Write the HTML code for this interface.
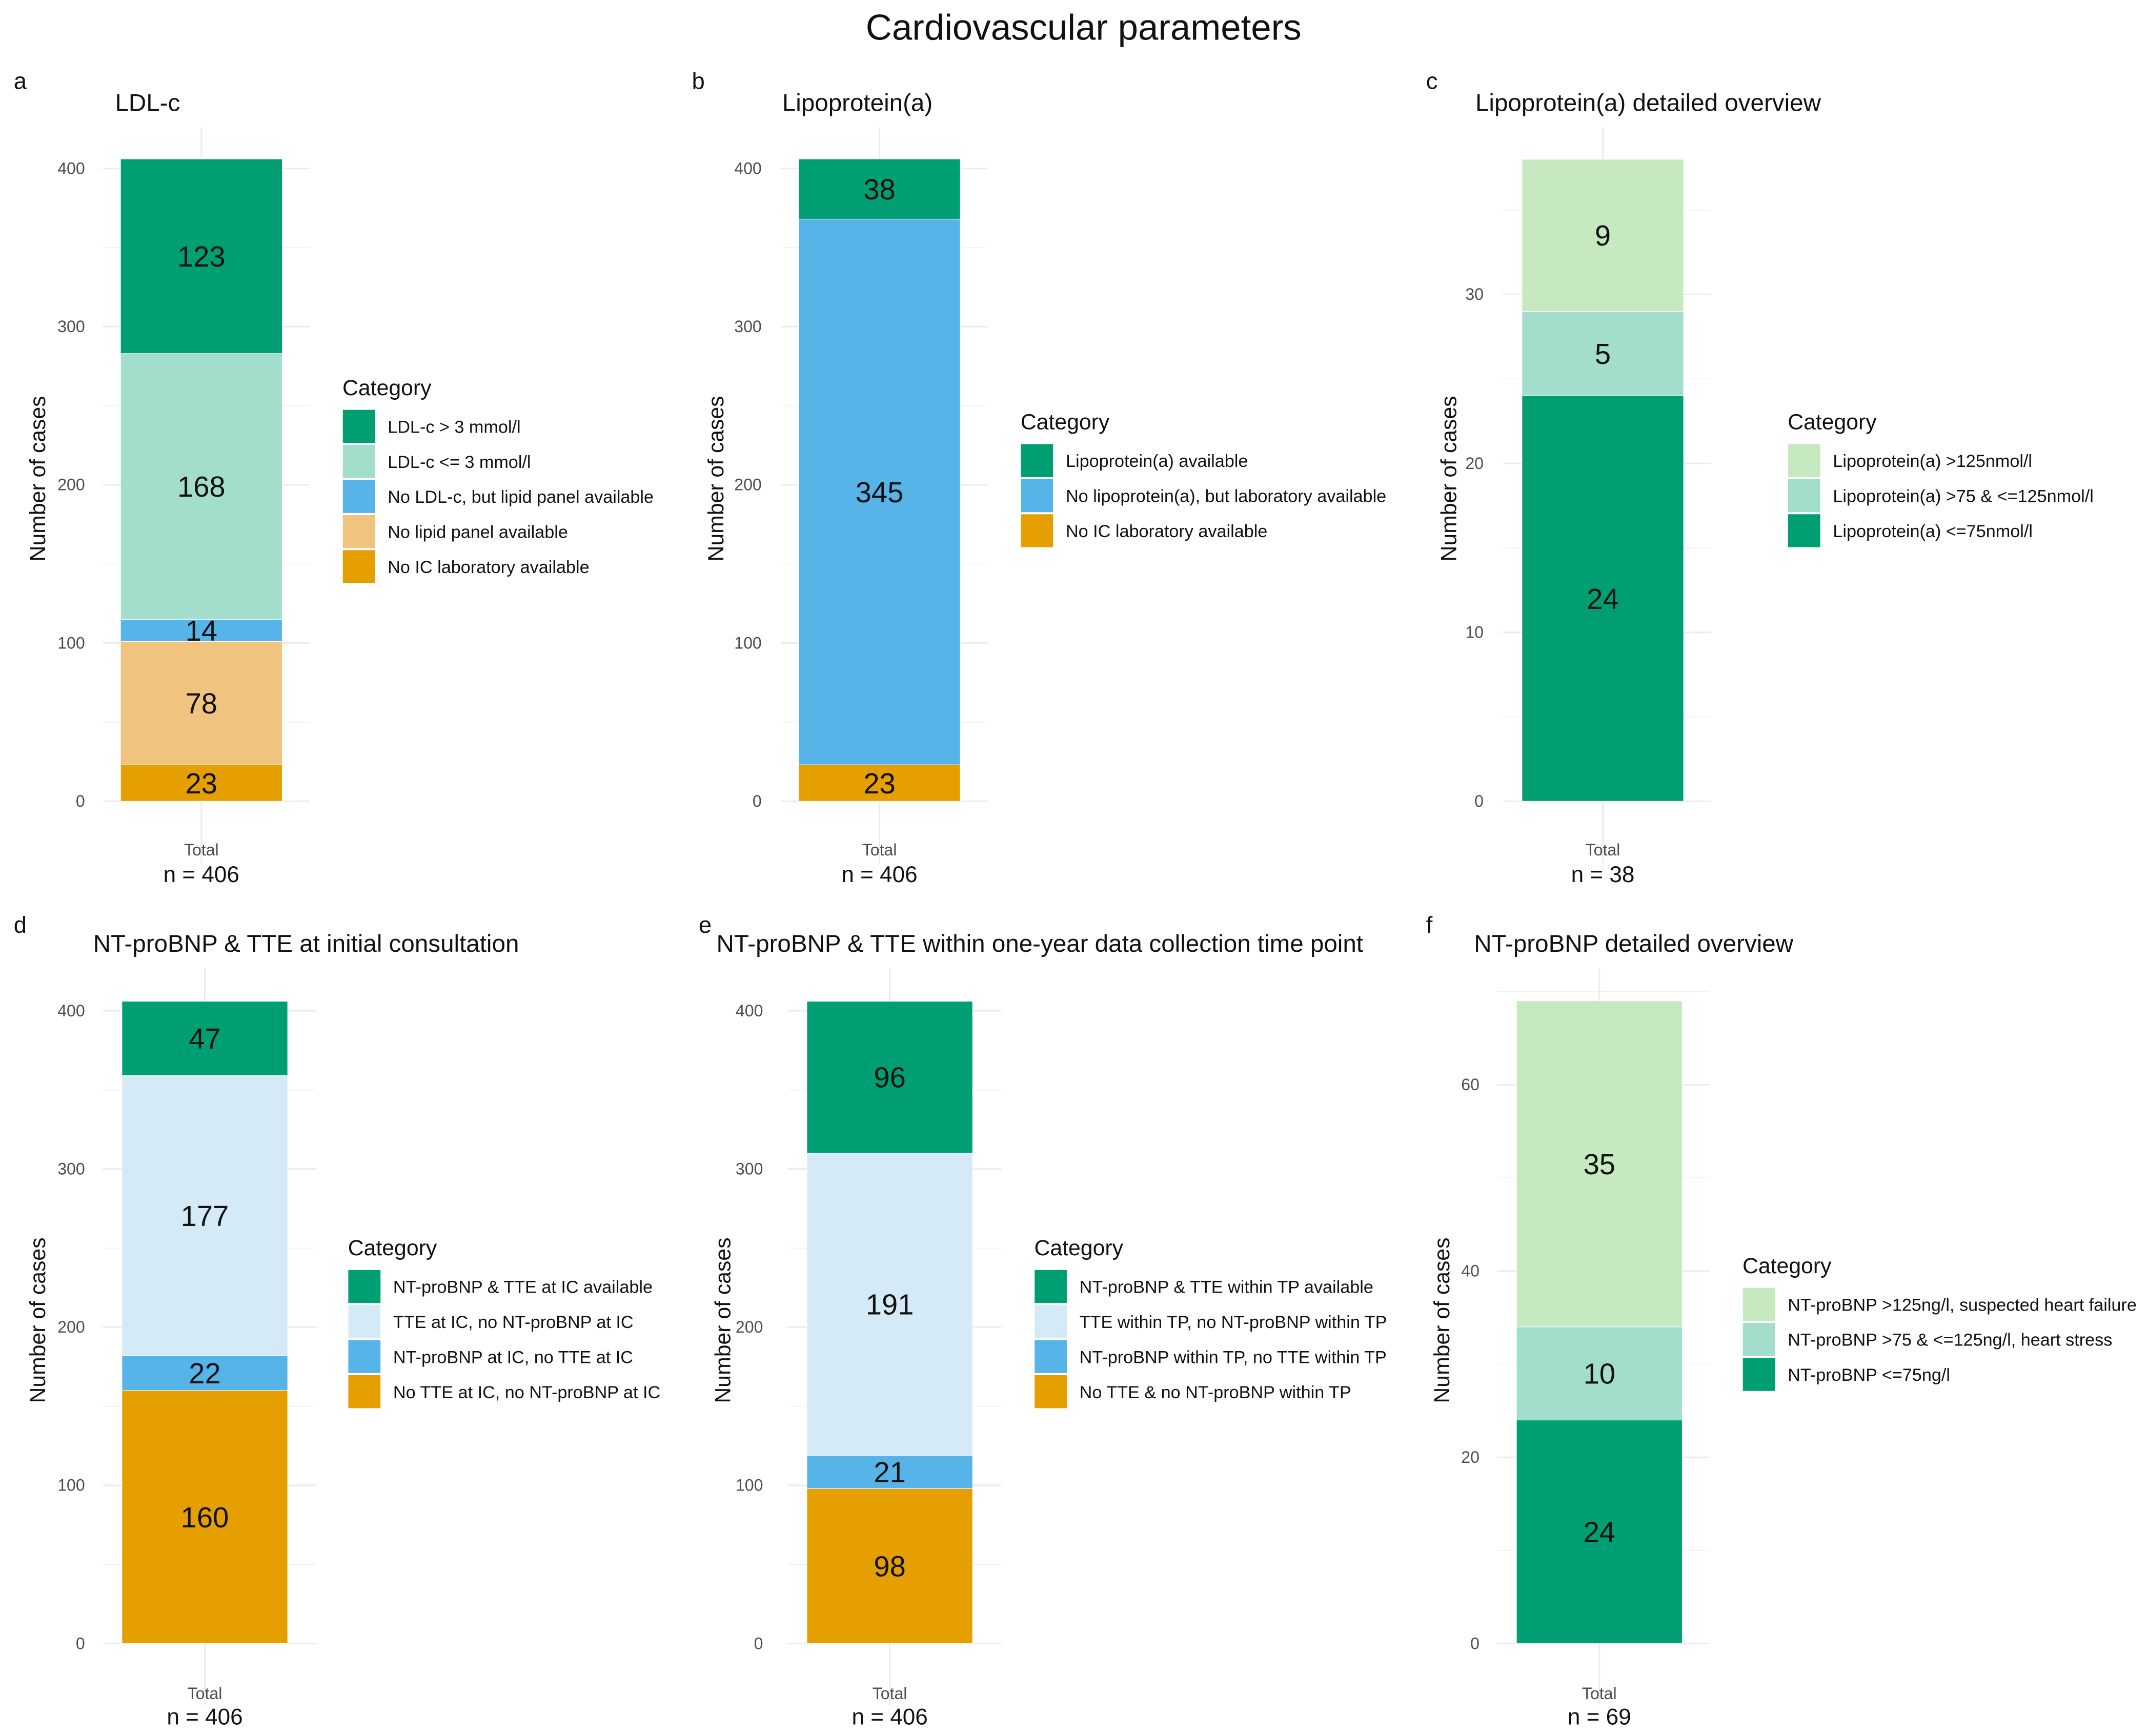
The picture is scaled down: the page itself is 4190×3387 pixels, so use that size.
<!DOCTYPE html>
<html><head><meta charset="utf-8">
<style>
html,body{margin:0;padding:0;background:#fff;}
svg{display:block;font-family:"Liberation Sans",Arial,sans-serif;}
</style></head>
<body>
<svg id="fig" width="4190" height="3387" viewBox="0 0 1568 1267.5" xmlns="http://www.w3.org/2000/svg">
<text x="791" y="29" font-size="26.5" text-anchor="middle" fill="#111">Cardiovascular parameters</text>
</svg>
<script>
// Panel data (values bottom -> top)
const aValues = [23, 78, 14, 168, 123];
const aLegend = ["LDL-c > 3 mmol/l","LDL-c <= 3 mmol/l","No LDL-c, but lipid panel available","No lipid panel available","No IC laboratory available"];
const bValues = [23, 345, 38];
const bLegend = ["Lipoprotein(a) available","No lipoprotein(a), but laboratory available","No IC laboratory available"];
const cValues = [24, 5, 9];
const cLegend = ["Lipoprotein(a) >125nmol/l","Lipoprotein(a) >75 & <=125nmol/l","Lipoprotein(a) <=75nmol/l"];
const dValues = [160, 22, 177, 47];
const dLegend = ["NT-proBNP & TTE at IC available","TTE at IC, no NT-proBNP at IC","NT-proBNP at IC, no TTE at IC","No TTE at IC, no NT-proBNP at IC"];
const eValues = [98, 21, 191, 96];
const eLegend = ["NT-proBNP & TTE within TP available","TTE within TP, no NT-proBNP within TP","NT-proBNP within TP, no TTE within TP","No TTE & no NT-proBNP within TP"];
const fValues = [24, 10, 35];
const fLegend = ["NT-proBNP >125ng/l, suspected heart failure","NT-proBNP >75 & <=125ng/l, heart stress","NT-proBNP <=75ng/l"];
const ticks406 = [0,100,200,300,400];
const ticks38 = [0,10,20,30];
const ticks69 = [0,20,40,60];

const G="#009E73",T="#A3DDCB",B="#56B4E9",O="#E69F00",LO="#F0C47E",LB="#D4EAF7",LG="#C7E9C0";
const NS="http://www.w3.org/2000/svg";
const svg=document.getElementById('fig');
function el(tag,attrs,parent){const e=document.createElementNS(NS,tag);for(const k in attrs)e.setAttribute(k,attrs[k]);(parent||svg).appendChild(e);return e;}

const panels=[
 {id:"a",title:"LDL-c",values:aValues,legend:aLegend,colors:[O,LO,B,T,G],legColors:[G,T,B,LO,O],ticks:ticks406,minor:50,max:400,
  lx:10,ly:60,tx:84,ty:75,bx0:88,bx1:206,y0:585,yTop:123,top:93,bottom:630,ytx:27,tickR:62,gx0:75,gx1:226,legX:250,catY:283,totY:620,nY:638},
 {id:"b",title:"Lipoprotein(a)",values:bValues,legend:bLegend,colors:[O,B,G],legColors:[G,B,O],ticks:ticks406,minor:50,max:400,
  lx:505,ly:60,tx:571,ty:75,bx0:583,bx1:701,y0:585,yTop:123,top:93,bottom:630,ytx:522,tickR:556,gx0:570,gx1:721,legX:745,catY:308,totY:620,nY:638},
 {id:"c",title:"Lipoprotein(a) detailed overview",values:cValues,legend:cLegend,colors:[G,T,LG],legColors:[LG,T,G],ticks:ticks38,minor:5,max:30,
  lx:1041,ly:60,tx:1077,ty:75,bx0:1111,bx1:1229,y0:585,yTop:215,top:93,bottom:630,ytx:1057,tickR:1083,gx0:1097,gx1:1249,legX:1305,catY:308,totY:620,nY:638},
 {id:"d",title:"NT-proBNP & TTE at initial consultation",values:dValues,legend:dLegend,colors:[O,B,LB,G],legColors:[G,LB,B,O],ticks:ticks406,minor:50,max:400,
  lx:10,ly:676,tx:68,ty:689,bx0:89,bx1:210,y0:1200,yTop:738,top:707,bottom:1245,ytx:27,tickR:62,gx0:75,gx1:231,legX:254,catY:911,totY:1236,nY:1253},
 {id:"e",title:"NT-proBNP & TTE within one-year data collection time point",values:eValues,legend:eLegend,colors:[O,B,LB,G],legColors:[G,LB,B,O],ticks:ticks406,minor:50,max:400,
  lx:510,ly:676,tx:523,ty:689,bx0:589,bx1:710,y0:1200,yTop:738,top:707,bottom:1245,ytx:527,tickR:557,gx0:575,gx1:731,legX:755,catY:911,totY:1236,nY:1253},
 {id:"f",title:"NT-proBNP detailed overview",values:fValues,legend:fLegend,colors:[G,T,LG],legColors:[LG,T,G],ticks:ticks69,minor:10,max:60,
  lx:1041,ly:676,tx:1076,ty:689,bx0:1107,bx1:1228,y0:1200,yTop:792,top:707,bottom:1245,ytx:1052,tickR:1080,gx0:1093,gx1:1248,legX:1272,catY:924,totY:1236,nY:1253}
];

panels.forEach(p=>{
  const g=el('g',{});
  
  
  const ys=v=>p.y0-(v/p.max)*(p.y0-p.yTop);
  const total=p.values.reduce((s,v)=>s+v,0);
  for(let v=p.minor; ys(v)>=p.top+5; v+=p.minor*2){
    const ln=el('line',{x1:p.gx0,x2:p.gx1,y1:ys(v),y2:ys(v),stroke:'#f0f0f0','stroke-width':0.6},g);
    
    
  }
  p.ticks.forEach(t=>{
    const ln=el('line',{x1:p.gx0,x2:p.gx1,y1:ys(t),y2:ys(t),stroke:'#ebebeb','stroke-width':1.1},g);
    
    
    const tx=el('text',{x:p.tickR,y:ys(t)+4,'font-size':12,'text-anchor':'end',fill:'#4d4d4d'},g);
    tx.textContent=t;
    
    
  });
  const cx=(p.bx0+p.bx1)/2;
  const vg=el('line',{x1:cx,x2:cx,y1:p.top,y2:p.bottom,stroke:'#ebebeb','stroke-width':1.1},g);
  
  
  let cum=0;
  p.values.forEach((v,i)=>{
    const y1=ys(cum+v),y2=ys(cum);
    const r=el('rect',{x:p.bx0,y:y1,width:p.bx1-p.bx0,height:y2-y1,fill:p.colors[i],stroke:'#fff','stroke-width':0.4},g);
    
    
    const t=el('text',{x:cx,y:(y1+y2)/2+7.5,'font-size':21,'text-anchor':'middle',fill:'#111'},g);
    t.textContent=v;
    
    
    cum+=v;
  });
  const L=el('text',{x:p.lx,y:p.ly+5,'font-size':17,fill:'#111'},g);L.textContent=p.id;
  
  
  const TT=el('text',{x:p.tx,y:p.ty+6,'font-size':17.8,fill:'#111'},g);TT.textContent=p.title;
  
  
  const midY=(p.top+p.bottom)/2-12;
  const YT=el('text',{x:p.ytx,y:midY,'font-size':16,'text-anchor':'middle',fill:'#111',transform:`rotate(-90 ${p.ytx} ${midY}) translate(0 6)`},g);
  YT.textContent='Number of cases';
  
  
  const XT=el('text',{x:cx,y:p.totY+4.5,'font-size':12,'text-anchor':'middle',fill:'#4d4d4d'},g);XT.textContent='Total';
  
  
  const N=el('text',{x:cx,y:p.nY+6,'font-size':16.5,'text-anchor':'middle',fill:'#111'},g);N.textContent='n = '+total;
  
  
  const lg=el('g',{},g);
  
  
  const C=el('text',{x:p.legX,y:p.catY+5.5,'font-size':16,fill:'#111'},lg);C.textContent='Category';
  
  
  p.legend.forEach((name,i)=>{
    const ry=p.catY+16+i*25.6;
    const k=el('rect',{x:p.legX,y:ry,width:24,height:24.6,fill:p.legColors[i],stroke:'#fff','stroke-width':0.5},lg);
    
    
    const t=el('text',{x:p.legX+33,y:ry+17,'font-size':12.8,fill:'#111'},lg);t.textContent=name;
    
    
  });
});
</script>
</body></html>
